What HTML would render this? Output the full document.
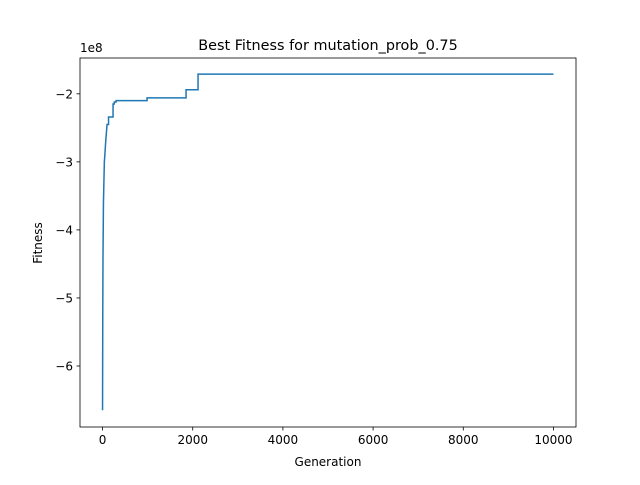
<!DOCTYPE html>
<html><head><meta charset="utf-8"><style>
body{margin:0;background:#fff;}
svg text{font-family:"DejaVu Sans","Liberation Sans",sans-serif;}
</style></head><body>
<svg id="c" width="640" height="480" viewBox="0 0 640 480" xmlns="http://www.w3.org/2000/svg">
<rect width="640" height="480" fill="#fff"/>
<text x="328" y="50" font-size="14.4" text-anchor="middle">Best Fitness for mutation_prob_0.75</text>
<text x="328" y="466" font-size="12" text-anchor="middle">Generation</text>
<text transform="translate(42,243) rotate(-90)" font-size="12" text-anchor="middle">Fitness</text>
<text x="80" y="52" font-size="12">1e8</text>
<g id="ticks"></g>
<polyline id="line" fill="none" stroke="#1f77b4" stroke-width="1.5"/>
<rect x="80" y="58" width="496" height="369" fill="none" stroke="#000" stroke-width="0.8"/>
</svg>
<script>
const gens=[0,5,10,20,30,40,55,70,100,133,233,260,300,987,1852,2118,10000];
const fitness=[-6.65,-5.2,-4.4,-3.6,-3.3,-3.0,-2.86,-2.7,-2.45,-2.34,-2.15,-2.12,-2.1,-2.06,-1.94,-1.71,-1.71];
const xTicks=[0,2000,4000,6000,8000,10000];
const yTicks=[-6,-5,-4,-3,-2];
const L=80,R=576,T=58,B=427,x0=-500,x1=10500,y0=-6.8965,y1=-1.4735;
const sx=v=>L+(v-x0)/(x1-x0)*(R-L);
const sy=v=>B-(v-y0)/(y1-y0)*(B-T);
const ns="http://www.w3.org/2000/svg";
let pts=[];
for(let i=0;i<gens.length;i++){
  if(i>0&&gens[i]>100)pts.push(sx(gens[i])+","+sy(fitness[i-1]));
  pts.push(sx(gens[i])+","+sy(fitness[i]));
}
document.getElementById('line').setAttribute('points',pts.join(' '));
const g=document.getElementById('ticks');
xTicks.forEach(t=>{
  const l=document.createElementNS(ns,'line');
  l.setAttribute('x1',sx(t));l.setAttribute('x2',sx(t));l.setAttribute('y1',B);l.setAttribute('y2',B+3.5);l.setAttribute('stroke','#000');l.setAttribute('stroke-width','0.8');
  
  
  g.appendChild(l);
  const tx=document.createElementNS(ns,'text');
  tx.setAttribute('x',sx(t));tx.setAttribute('y',B+17);tx.setAttribute('font-size','12');tx.setAttribute('text-anchor','middle');
  tx.textContent=t;
  
  
  g.appendChild(tx);
});
yTicks.forEach(t=>{
  const l=document.createElementNS(ns,'line');
  l.setAttribute('x1',L-3.5);l.setAttribute('x2',L);l.setAttribute('y1',sy(t));l.setAttribute('y2',sy(t));l.setAttribute('stroke','#000');l.setAttribute('stroke-width','0.8');
  
  
  g.appendChild(l);
  const tx=document.createElementNS(ns,'text');
  tx.setAttribute('x',L-7);tx.setAttribute('y',sy(t)+4.5);tx.setAttribute('font-size','12');tx.setAttribute('text-anchor','end');
  tx.textContent='\u2212'+Math.abs(t);
  
  
  g.appendChild(tx);
});
</script>
</body></html>
